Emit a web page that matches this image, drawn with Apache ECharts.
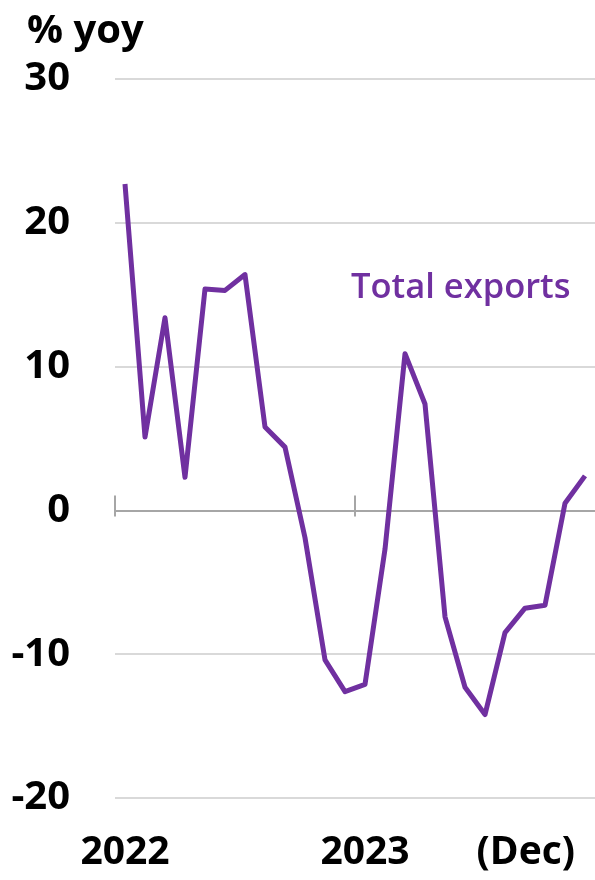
<!DOCTYPE html>
<html>
<head>
<meta charset="utf-8">
<script src="https://cdn.jsdelivr.net/npm/echarts@6/dist/echarts.min.js"></script>
<style>
  html, body { margin: 0; padding: 0; background: #fff; }
  #chart { width: 595px; height: 880px; }
</style>
</head>
<body>
<div id="chart"></div>
<script>
// monthly, Jan 2022 .. Dec 2023
const months = ['Jan 22','Feb 22','Mar 22','Apr 22','May 22','Jun 22','Jul 22','Aug 22','Sep 22','Oct 22','Nov 22','Dec 22',
                'Jan 23','Feb 23','Mar 23','Apr 23','May 23','Jun 23','Jul 23','Aug 23','Sep 23','Oct 23','Nov 23','Dec 23']
const xLabels = ['2022','','','','','','','','','','','',
                 '2023','','','','','','','','','','','(Dec)']
const totalExports = [22.7, 5.1, 13.4, 2.3, 15.4, 15.3, 16.4, 5.8, 4.4, -1.9, -10.4, -12.6,
                      -12.1, -2.7, 10.9, 7.4, -7.4, -12.3, -14.2, -8.5, -6.8, -6.6, 0.5, 2.4]
const yTicks = [-20, -10, 0, 10, 20, 30]
// year boundaries, counted in months from the left edge
const yearStarts = [0, 12]

const font = 'Open Sans'
const purple = '#7030a0'
const axisGray = '#a6a6a6'

// zero-line axis measured in months, so the ticks land on the year boundaries
const tickAxis = (position, yIdx, len, withLine) => ({
  type: 'value',
  position: position,
  min: 0,
  max: months.length,
  axisLine: { show: withLine, onZero: true, onZeroAxisIndex: yIdx, lineStyle: { color: axisGray, width: 2 } },
  axisTick: { show: true, customValues: yearStarts, length: len, lineStyle: { color: axisGray, width: 2 } },
  axisLabel: { show: false },
  splitLine: { show: false }
})

let option = {
  animation: false,
  title: {
    text: '% yoy',
    left: 22,
    top: 7,
    textStyle: { fontFamily: font, fontSize: 40, fontWeight: 'bold', color: '#000' }
  },
  graphic: [{
    type: 'text',
    left: 351,
    top: 271,
    style: { text: 'Total exports', fill: purple, font: '600 34.5px "Open Sans"' }
  }],
  grid: {
    left: 115,
    width: 483,
    top: 79,
    bottom: 82
  },
  xAxis: [
    {
      // year labels along the bottom
      type: 'category',
      data: months,
      position: 'bottom',
      axisLine: { show: false, onZero: false },
      axisTick: { show: false },
      axisLabel: {
        interval: 0,
        formatter: (v, i) => i === 23 ? '{dec|' + xLabels[i] + '}' : xLabels[i],
        alignMaxLabel: 'right',
        margin: 35,
        fontFamily: font,
        fontSize: 39,
        fontWeight: 'bold',
        color: '#000',
        rich: {
          dec: { fontFamily: font, fontSize: 39, fontWeight: 'bold', color: '#000', padding: [0, 10, 0, 0] }
        }
      }
    },
    // zero line + short ticks downward
    tickAxis('bottom', 0, 6, true),
    // longer ticks upward
    tickAxis('top', 1, 15, false)
  ],
  yAxis: [
    {
      type: 'value',
      min: yTicks[0],
      max: yTicks[yTicks.length - 1],
      interval: 10,
      axisLine: { show: false },
      axisTick: { show: false },
      splitLine: { show: true, lineStyle: { color: '#d9d9d9', width: 2 } },
      axisLabel: {
        margin: 45,
        fontFamily: font,
        fontSize: 40,
        fontWeight: 'bold',
        color: '#000'
      }
    },
    {
      // twin of the first, only used to place the upward ticks on zero
      type: 'value',
      position: 'right',
      min: yTicks[0],
      max: yTicks[yTicks.length - 1],
      interval: 10,
      axisLine: { show: false },
      axisTick: { show: false },
      axisLabel: { show: false },
      splitLine: { show: false }
    }
  ],
  series: [
    {
      name: 'Total exports',
      type: 'line',
      xAxisIndex: 0,
      yAxisIndex: 0,
      symbol: 'none',
      lineStyle: { color: purple, width: 5, join: 'round' },
      data: totalExports,
      z: 5
    }
  ]
}

let myChart = echarts.init(document.getElementById('chart'))
myChart.setOption(option)
</script>
</body>
</html>
